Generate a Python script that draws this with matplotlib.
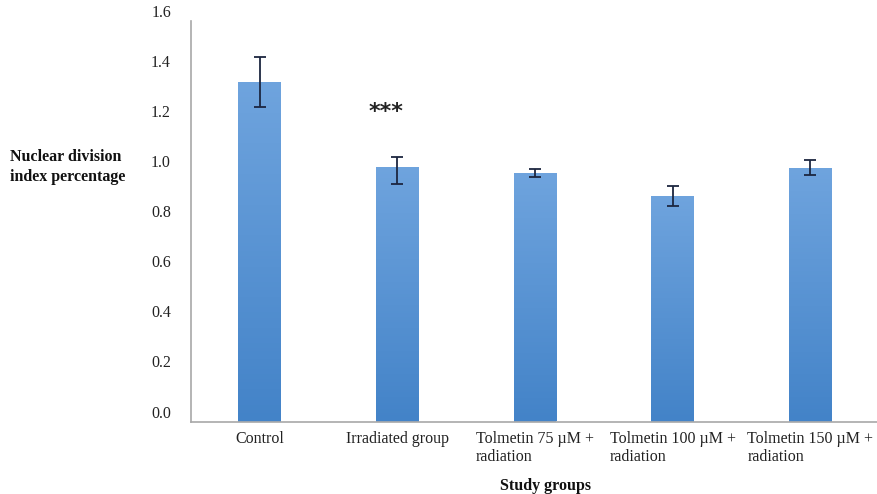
import numpy as np
import matplotlib
matplotlib.use('Agg')
import matplotlib.pyplot as plt
from matplotlib.colors import LinearSegmentedColormap

# data
groups = ['Control', 'Irradiated group', 'Tolmetin 75 \u00b5M +\nradiation',
          'Tolmetin 100 \u00b5M +\nradiation', 'Tolmetin 150 \u00b5M +\nradiation']
means = [1.354, 1.015, 0.992, 0.900, 1.013]
err_low = [0.100, 0.068, 0.017, 0.040, 0.029]
err_high = [0.100, 0.042, 0.017, 0.040, 0.029]
yticks = [0.0, 0.2, 0.4, 0.6, 0.8, 1.0, 1.2, 1.4, 1.6]
signif = '***'

plt.rcParams['font.family'] = ['Liberation Serif', 'DejaVu Serif']

fig = plt.figure(figsize=(8.77, 4.94), dpi=100)
ax = fig.add_axes([191/877, 72.5/494, 688/877, 400.8/494])

x = np.arange(len(groups))
bars = ax.bar(x, means, width=0.31, color='#5A95D6', zorder=2)

# excel style vertical gradient on each bar
cmap = LinearSegmentedColormap.from_list('excel', ['#4383C8', '#6FA4DE'])
grad = np.linspace(0, 1, 256).reshape(-1, 1)
for b in bars:
  bx, by = b.get_x(), b.get_y()
  w, h = b.get_width(), b.get_height()
  im = ax.imshow(grad, extent=[bx, bx+w, by, by+h], origin='lower', aspect='auto',
                 cmap=cmap, zorder=3)
  im.set_clip_path(b)

ax.errorbar(x, means, yerr=[err_low, err_high], fmt='none', ecolor='#1C2640',
            elinewidth=1.3, capsize=4.3, capthick=1.3, zorder=4)

ax.text(0.917, 1.212, signif, ha='center', va='baseline', fontsize=16,
        family='DejaVu Sans', fontweight='bold', color='#222222')

ax.set_xlim(-0.5, 4.5)
ax.set_ylim(0, 1.6)
ax.set_yticks(yticks)
ax.set_yticklabels(['%.1f' % v for v in yticks], va='bottom')
ax.set_xticks(x)
ax.set_xticklabels(groups, multialignment='left')
ax.tick_params(axis='y', length=0, pad=14.4, labelsize=11.5, colors='#222222')
ax.tick_params(axis='x', length=0, pad=6.5, labelsize=11.5, colors='#222222')

for s in ['top', 'right']:
  ax.spines[s].set_visible(False)
for s in ['left', 'bottom']:
  ax.spines[s].set_color('#A8A8A8')
  ax.spines[s].set_linewidth(1.2)

fig.text(10/877, 1-167/494, 'Nuclear division\nindex percentage', ha='left', va='center',
         fontsize=11.5, fontweight='bold', linespacing=1.3, color='#111111')
fig.text(546/877, 4/494, 'Study groups', ha='center', va='baseline',
         fontsize=11.5, fontweight='bold', color='#111111')

fig.savefig('out.png', dpi=100)
